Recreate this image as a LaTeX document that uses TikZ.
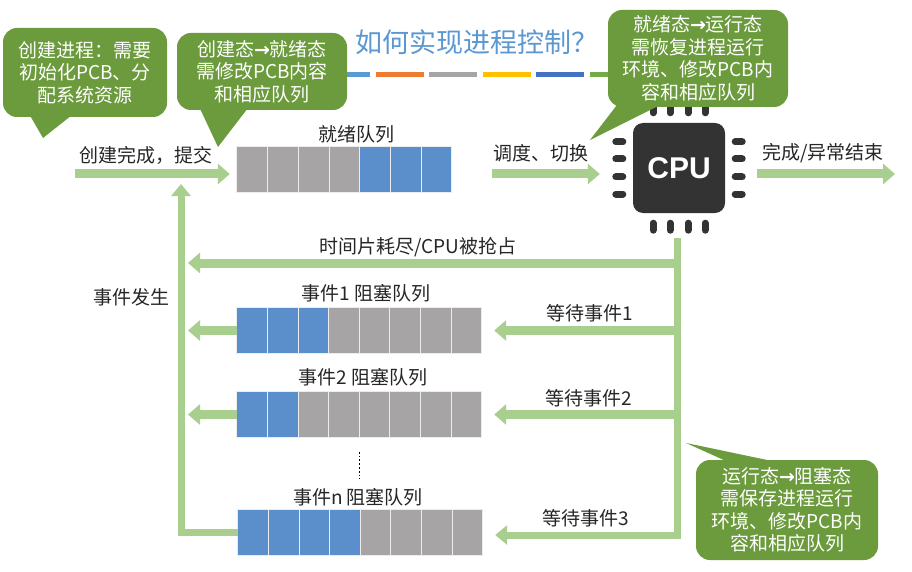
\documentclass[tikz,border=0pt]{standalone}
\usepackage{fontspec}
\setmainfont{Noto Sans CJK SC}
\newfontfamily\policeCPU{Liberation Sans}
\newfontfamily\policeFleche{DejaVu Sans}
\usepackage{tikz}
\usetikzlibrary{arrows.meta, calc, positioning}
\definecolor{vertbulle}{RGB}{107,155,60}
\definecolor{vertfleche}{RGB}{168,207,141}
\definecolor{gris}{RGB}{166,164,164}
\definecolor{bleu}{RGB}{91,143,203}
\definecolor{grisCPU}{RGB}{51,51,51}
\definecolor{bleutitre}{RGB}{91,152,210}
\definecolor{t1}{RGB}{91,155,213}
\definecolor{t2}{RGB}{237,125,49}
\definecolor{t3}{RGB}{165,165,165}
\definecolor{t4}{RGB}{255,192,0}
\definecolor{t5}{RGB}{68,114,196}
\definecolor{t6}{RGB}{112,173,71}
\newcommand{\tailleTexte}{\fontsize{19}{22.5}\selectfont}
\newcommand{\vers}{{\policeFleche\bfseries →}}

\begin{document}
\begin{tikzpicture}[
		x=1pt, y=-1pt,
		etiquette/.style={font=\tailleTexte, text=black!85, inner sep=0pt},
		bulle/.style={fill=vertbulle, rounded corners=14pt, text=white, align=center, font=\tailleTexte, inner sep=0pt},
		file/.style={minimum height=46pt, inner sep=0pt},
		cellule/.style={draw=white!85!gray, line width=0.8pt},
		fleche/.style={draw=vertfleche, line width=9pt, -{Triangle[length=12pt,width=20pt]}}, % grosses fleches
		boucle/.style={draw=vertfleche, line width=7pt, -{Triangle[length=12pt,width=19pt]}},
		broche/.style={draw=grisCPU, line width=7pt, line cap=round}
		]
		\useasboundingbox[fill=white] (0,0) rectangle (912,572);
		
		% Le titre
		\node[font=\fontsize{27}{30}\selectfont, text=bleutitre] (titre) at (477,42) {如何实现进程控制？};
		\foreach \c [count=\i from 0] in {t1,t2,t3,t4,t5,t6}
		\draw[line width=5pt, \c] (322+\i*53.6,75) -- ++(48,0);
		
		% Les files
		\node[file, minimum width=215pt] (pret) at (344.5,170) {};
		\node[file, minimum width=245pt] (evt1) at (359.5,330.5) {};
		\node[file, minimum width=245pt] (evt2) at (359.5,414.5) {};
		\node[file, minimum width=245pt] (evtn) at (360.5,532.5) {};
		\foreach \c [count=\i from 0] in {gris,gris,gris,gris,bleu,bleu,bleu}
		\draw[cellule, fill=\c] ($(pret.north west)+(\i*30.7,0)$) rectangle ++(30.7,46);
		\foreach \c [count=\i from 0] in {bleu,bleu,bleu,gris,gris,gris,gris,gris}
		\draw[cellule, fill=\c] ($(evt1.north west)+(\i*30.6,0)$) rectangle ++(30.6,46);
		\foreach \c [count=\i from 0] in {bleu,bleu,gris,gris,gris,gris,gris,gris}
		\draw[cellule, fill=\c] ($(evt2.north west)+(\i*30.6,0)$) rectangle ++(30.6,46);
		\foreach \c [count=\i from 0] in {bleu,bleu,bleu,bleu,gris,gris,gris,gris}
		\draw[cellule, fill=\c] ($(evtn.north west)+(\i*30.6,0)$) rectangle ++(30.6,46);
		\draw[dotted, line width=1.8pt] ($(evt2.south)+(0,14)$) -- ++(0,27);
		
		% Le processeur
		\node[fill=grisCPU, rounded corners=10pt, minimum width=92pt, minimum height=90pt, text=white,
		font=\policeCPU\fontsize{30}{30}\selectfont\bfseries] (cpu) at (679,168) {CPU};
		\foreach \d in {-26,-9,9,26} {
			\draw[broche] ($(cpu.west)+(-10,\d)$) -- ++(-7,0);
			\draw[broche] ($(cpu.east)+(10,\d)$) -- ++(7,0);
			\draw[broche] ($(cpu.north)+(\d,-10)$) -- ++(0,-7);
			\draw[broche] ($(cpu.south)+(\d,10)$) -- ++(0,7);
		}
		
		% Les etiquettes
		\node[etiquette] (lpret) at (356,134) {就绪队列};
		\node[etiquette] (lcreer) at (146,155) {创建完成，提交};
		\node[etiquette] (lsched) at (541,153) {调度、切换};
		\node[etiquette] (lfin) at (823,153) {完成/异常结束};
		\node[etiquette] (ltemps) at (418,247) {时间片耗尽/CPU被抢占};
		\node[etiquette] (levt) at (131,297) {事件发生};
		\node[etiquette] (le1) at (366,293) {事件1 阻塞队列};
		\node[etiquette] (le2) at (363,377) {事件2 阻塞队列};
		\node[etiquette] (len) at (358,497) {事件n 阻塞队列};
		\node[etiquette] (lw1) at (590,313) {等待事件1};
		\node[etiquette] (lw2) at (589,398) {等待事件2};
		\node[etiquette] (lw3) at (586,518) {等待事件3};
		
		% Les fleches
		\coordinate (entree) at (75,174);
		\coordinate (sortie) at (188,0);
		\coordinate (montee) at (181,184);
		\coordinate (haut) at (677,238);
		\coordinate (bas) at (677,535);
		\coordinate (temps) at (677,263);
		\coordinate (sched) at (492,174);
		\coordinate (fin) at (895,174);
		\draw[fleche, shorten >=7pt] (entree) -- (entree -| pret.west);
		\draw[fleche, shorten >=33pt] (sched) -- (sched -| cpu.west);
		\draw[fleche, shorten <=32pt] (sched -| cpu.east) -- (fin);
		\draw[fleche] (temps) -- (temps -| sortie);
		\draw[fleche] (evt1.west) -- (evt1.west -| sortie);
		\draw[fleche] (evt2.west) -- (evt2.west -| sortie);
		\draw[fleche, shorten >=12pt] (haut |- evt1) -- (evt1.east);
		\draw[fleche, shorten >=12pt] (haut |- evt2) -- (evt2.east);
		\draw[boucle] (evtn.west) -- (evtn.west -| montee) -- (montee);
		\draw[boucle, shorten >=12pt] (haut) -- (bas) -- (bas -| evtn.east);
		
		% Les bulles
		\node[bulle, minimum width=164pt, minimum height=89pt] (b1) at (85,72.5) {创建进程：需要\\初始化PCB、分\\配系统资源};
		\coordinate (pointe1) at (43,138);
		\fill[vertbulle] ($(b1.south west)+(27,-2)$) -- (pointe1) -- ($(b1.south west)+(69,-2)$) -- cycle;
		\node[bulle, minimum width=170pt, minimum height=77pt] (b2) at (262,71.5) {创建态\vers 就绪态\\需修改PCB内容\\和相应队列};
		\coordinate (pointe2) at (218,147);
		\fill[vertbulle] ($(b2.south west)+(23,-2)$) -- (pointe2) -- ($(b2.south west)+(71,-2)$) -- cycle;
		\node[bulle, minimum width=180pt, minimum height=97pt] (b3) at (698,58.5) {就绪态\vers 运行态\\需恢复进程运行\\环境、修改PCB内\\容和相应队列};
		\coordinate (pointe3) at (590,140);
		\fill[vertbulle] ($(b3.south west)+(9,-2)$) -- (pointe3) -- ($(b3.south west)+(52,-2)$) -- cycle;
		\node[bulle, minimum width=182pt, minimum height=100pt] (b4) at (787,510) {运行态\vers 阻塞态\\需保存进程运行\\环境、修改PCB内\\容和相应队列};
		\coordinate (pointe4) at (686,443);
		\fill[vertbulle] ($(b4.north west)+(32,2)$) -- (pointe4) -- ($(b4.north west)+(80,2)$) -- cycle;
	\end{tikzpicture}
\end{document}
